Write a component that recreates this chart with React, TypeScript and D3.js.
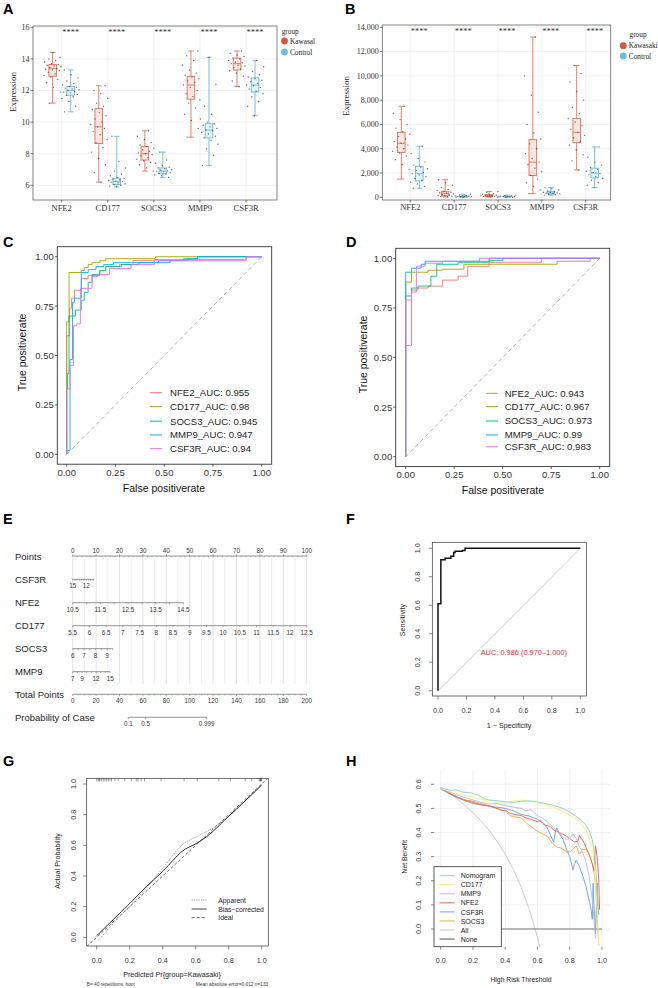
import * as d3 from 'd3';

const SERIF = "'Liberation Serif', 'Times New Roman', serif";
const SANS = "'Liberation Sans', Arial, sans-serif";

const GENES = ['NFE2', 'CD177', 'SOCS3', 'MMP9', 'CSF3R'];
const CASE_COLOR = '#E0705A';
const CTRL_COLOR = '#6DB9D3';

// Training set expression: [min, q1, median, q3, max] per gene
const trainCaseBox = [
  [11.2, 12.9, 13.4, 13.65, 14.4],
  [6.2, 8.65, 9.7, 10.85, 12.3],
  [6.9, 7.6, 8.0, 8.45, 9.45],
  [9.05, 11.45, 12.35, 12.9, 14.5],
  [12.25, 13.3, 13.7, 14.05, 14.5],
];
const trainCtrlBox = [
  [10.65, 11.7, 12.0, 12.25, 13.3],
  [5.9, 6.05, 6.25, 6.45, 9.1],
  [6.5, 6.75, 6.9, 7.1, 8.1],
  [7.25, 9.0, 9.5, 9.9, 14.1],
  [10.4, 11.9, 12.35, 12.8, 13.9],
];
const trainCasePts = [
  [11.2, 11.9, 12.2, 12.5, 12.7, 12.85, 12.95, 13.05, 13.15, 13.25, 13.3, 13.35, 13.4, 13.45, 13.5, 13.55, 13.6, 13.65, 13.7, 13.8, 13.9, 14.0, 14.1, 14.4],
  [6.2, 6.8, 7.3, 7.7, 8.1, 8.4, 8.7, 8.9, 9.2, 9.4, 9.6, 9.7, 9.85, 10.0, 10.2, 10.4, 10.6, 10.8, 11.0, 11.2, 11.5, 11.8, 12.0, 12.3],
  [6.9, 7.1, 7.3, 7.45, 7.55, 7.65, 7.75, 7.85, 7.95, 8.0, 8.05, 8.15, 8.25, 8.35, 8.45, 8.55, 8.7, 8.9, 9.1, 9.45],
  [9.05, 9.6, 10.1, 10.5, 10.9, 11.2, 11.4, 11.6, 11.8, 12.0, 12.2, 12.35, 12.5, 12.6, 12.75, 12.85, 12.95, 13.1, 13.3, 13.6, 13.9, 14.2, 14.5],
  [12.25, 12.6, 12.9, 13.1, 13.25, 13.35, 13.45, 13.55, 13.6, 13.7, 13.75, 13.8, 13.9, 14.0, 14.05, 14.15, 14.25, 14.35, 14.5],
];
const trainCtrlPts = [
  [10.65, 11.0, 11.3, 11.5, 11.6, 11.7, 11.75, 11.85, 11.9, 11.95, 12.0, 12.05, 12.1, 12.15, 12.2, 12.25, 12.35, 12.45, 12.6, 12.8, 13.0, 13.3],
  [5.9, 5.95, 6.0, 6.05, 6.1, 6.15, 6.2, 6.25, 6.25, 6.3, 6.35, 6.4, 6.45, 6.5, 6.6, 6.7, 6.9, 7.1, 7.5, 9.1],
  [6.5, 6.6, 6.65, 6.7, 6.75, 6.8, 6.85, 6.9, 6.9, 6.95, 7.0, 7.05, 7.1, 7.15, 7.25, 7.4, 7.6, 8.1],
  [7.25, 7.9, 8.3, 8.6, 8.85, 9.0, 9.1, 9.25, 9.35, 9.45, 9.5, 9.6, 9.7, 9.8, 9.9, 10.0, 10.2, 10.5, 11.0, 12.4, 14.1],
  [10.4, 11.0, 11.3, 11.6, 11.8, 11.95, 12.1, 12.2, 12.3, 12.35, 12.45, 12.55, 12.65, 12.75, 12.85, 13.0, 13.2, 13.5, 13.9],
];
const TRAIN_TICKS = [6, 8, 10, 12, 14, 16];

// Validation set expression
const testCaseBox = [
  [1500, 3700, 4450, 5350, 7500],
  [30, 130, 330, 500, 1450],
  [20, 60, 140, 220, 480],
  [300, 1800, 2900, 4750, 13200],
  [2250, 4500, 5350, 6500, 10850],
];
const testCtrlBox = [
  [750, 1350, 1950, 2550, 4200],
  [10, 40, 70, 110, 250],
  [10, 40, 70, 100, 180],
  [180, 270, 360, 470, 800],
  [800, 1600, 2000, 2400, 4150],
];
const testCasePts = [
  [1500, 2300, 2700, 3100, 3400, 3650, 3800, 4000, 4150, 4300, 4450, 4600, 4800, 5000, 5200, 5400, 5700, 6000, 6400, 6900, 7500],
  [30, 60, 90, 120, 150, 190, 230, 280, 330, 380, 430, 480, 550, 650, 800, 1000, 1200, 1450],
  [20, 40, 60, 80, 100, 120, 140, 160, 180, 210, 250, 300, 380, 480],
  [300, 600, 900, 1200, 1500, 1800, 2100, 2400, 2700, 2900, 3200, 3600, 4000, 4400, 4800, 5300, 6000, 7000, 8400, 10000, 13200],
  [2250, 3000, 3500, 3900, 4300, 4600, 4900, 5100, 5350, 5600, 5900, 6200, 6500, 6900, 7400, 8000, 8700, 9500, 10200, 10850],
];
const testCtrlPts = [
  [750, 900, 1100, 1250, 1400, 1550, 1700, 1850, 1950, 2050, 2200, 2350, 2500, 2650, 2900, 3200, 3600, 4200],
  [10, 20, 35, 45, 55, 65, 75, 85, 100, 120, 150, 200, 250],
  [10, 25, 40, 50, 60, 70, 80, 95, 110, 140, 180],
  [180, 220, 250, 280, 310, 340, 360, 390, 420, 460, 520, 600, 700, 800],
  [800, 1000, 1200, 1400, 1550, 1700, 1850, 1950, 2050, 2150, 2300, 2450, 2650, 2900, 3300, 4150],
];
const TEST_TICKS = [0, 2000, 4000, 6000, 8000, 10000, 12000, 14000];

// ROC curves, [fpr, tpr] corners
const ROC_COLORS = ['#F8766D', '#A3A500', '#00BF7D', '#00B0F6', '#E76BF3'];
const trainAuc = ['0.955', '0.98', '0.945', '0.947', '0.94'];
const trainRoc = [
  [[0, 0], [0, 0.6], [0.015, 0.74], [0.025, 0.79], [0.04, 0.83], [0.075, 0.89], [0.11, 0.905], [0.17, 0.93], [0.2, 0.95], [0.27, 0.96], [0.34, 0.98], [0.45, 0.985], [0.92, 1], [1, 1]],
  [[0, 0], [0, 0.67], [0.012, 0.92], [0.075, 0.93], [0.09, 0.945], [0.11, 0.96], [0.13, 0.97], [0.17, 0.98], [0.2, 0.99], [0.455, 1], [1, 1]],
  [[0, 0], [0, 0.33], [0.005, 0.41], [0.012, 0.7], [0.045, 0.73], [0.075, 0.78], [0.09, 0.82], [0.11, 0.87], [0.13, 0.91], [0.17, 0.93], [0.2, 0.95], [0.28, 0.96], [0.37, 0.97], [0.47, 0.98], [0.6, 0.99], [0.67, 1], [1, 1]],
  [[0, 0], [0, 0.02], [0.017, 0.48], [0.03, 0.77], [0.04, 0.79], [0.075, 0.92], [0.11, 0.935], [0.15, 0.95], [0.19, 0.96], [0.24, 0.97], [0.53, 0.98], [0.62, 0.99], [0.67, 1], [1, 1]],
  [[0, 0], [0, 0.33], [0.017, 0.45], [0.035, 0.65], [0.05, 0.66], [0.07, 0.84], [0.13, 0.9], [0.16, 0.91], [0.22, 0.94], [0.33, 0.96], [0.45, 0.98], [0.92, 1], [1, 1]],
];
const testAuc = ['0.943', '0.967', '0.973', '0.99', '0.983'];
const testRoc = [
  [[0, 0], [0, 0.56], [0.03, 0.84], [0.064, 0.85], [0.115, 0.86], [0.19, 0.89], [0.27, 0.91], [0.32, 0.96], [0.43, 0.98], [0.7, 1], [1, 1]],
  [[0, 0], [0, 0.88], [0.03, 0.93], [0.115, 0.94], [0.19, 0.945], [0.3, 0.97], [0.78, 0.985], [0.95, 1], [1, 1]],
  [[0, 0], [0, 0.81], [0.03, 0.85], [0.064, 0.86], [0.13, 0.91], [0.16, 0.97], [0.27, 0.98], [0.43, 0.99], [0.5, 1], [1, 1]],
  [[0, 0], [0, 0.93], [0.03, 0.95], [0.08, 0.97], [0.1, 0.985], [0.43, 1], [1, 1]],
  [[0, 0], [0, 0.79], [0.03, 0.83], [0.055, 0.96], [0.1, 0.975], [0.19, 0.985], [0.38, 1], [1, 1]],
];

// Nomogram axes: value range, points reached at the far end, labels, tick step
const NOMO_VARS = [
  { name: 'CSF3R', from: 15, to: 10.2, endPts: 9.2, labels: [15, 12], step: 0.5 },
  { name: 'NFE2', from: 10.5, to: 14.5, endPts: 47.3, labels: [10.5, 11.5, 12.5, 13.5, 14.5], step: 0.5 },
  { name: 'CD177', from: 5.5, to: 12.5, endPts: 100, labels: d3.range(5.5, 12.51, 0.5), step: 0.5 },
  { name: 'SOCS3', from: 6, to: 9.5, endPts: 17.1, labels: [6, 7, 8, 9], step: 0.5 },
  { name: 'MMP9', from: 7, to: 15, endPts: 16, labels: [7, 9, 12, 15], step: 1 },
];
const PROB_LABELS = ['0.1', '0.5', '0.999'];
const PROB_TOTAL_POINTS = [47.5, 62.4, 114.5];

// Combined-model ROC
const nomoRoc = [[0, 0], [0, 0.61], [0.02, 0.92], [0.05, 0.93], [0.09, 0.945], [0.11, 0.97], [0.12, 0.98], [0.17, 0.985], [0.19, 1], [1, 1]];

// Calibration
const calApparent = [[0.01, -0.02], [0.1, 0.09], [0.2, 0.2], [0.3, 0.32], [0.4, 0.45], [0.515, 0.6], [0.626, 0.667], [0.7, 0.71], [0.788, 0.776], [0.9, 0.89], [1.0, 0.995]];
const calCorrected = [[0.0, 0.01], [0.1, 0.115], [0.2, 0.22], [0.3, 0.33], [0.4, 0.43], [0.465, 0.505], [0.515, 0.559], [0.606, 0.613], [0.667, 0.657], [0.8, 0.79], [0.9, 0.89], [1.0, 0.993]];
const calRug = [0.0, 0.01, 0.015, 0.02, 0.03, 0.04, 0.05, 0.06, 0.07, 0.08, 0.09, 0.11, 0.13, 0.17, 0.21, 0.24, 0.25, 0.27, 0.29, 0.39, 0.53, 0.61, 0.74, 0.81, 0.9, 0.94, 0.985, 0.99, 0.993, 0.996, 1.0];

// Decision curves
const DCA_NAMES = ['Nomogram', 'CD177', 'MMP9', 'NFE2', 'CSF3R', 'SOCS3', 'All', 'None'];
const DCA_COLORS = ['#8DD3C7', '#F5F27A', '#BEBADA', '#EE6658', '#6FA3D6', '#F3A64C', '#C8C8C8', '#555555'];
const dcaNomogram = [[0, 0.587], [0.03, 0.58], [0.06, 0.575], [0.1, 0.577], [0.13, 0.568], [0.17, 0.566], [0.2, 0.562], [0.23, 0.556], [0.27, 0.54], [0.3, 0.535], [0.33, 0.533], [0.36, 0.531], [0.4, 0.528], [0.45, 0.525], [0.5, 0.53], [0.55, 0.531], [0.6, 0.527], [0.65, 0.52], [0.7, 0.512], [0.75, 0.502], [0.8, 0.485], [0.85, 0.462], [0.88, 0.445], [0.9, 0.43], [0.92, 0.41], [0.94, 0.37], [0.95, 0.33], [0.96, 0.27], [0.97, 0.16], [0.975, 0.1], [0.98, 0.07]];
const dcaCD177 = [[0, 0.585], [0.04, 0.575], [0.08, 0.565], [0.12, 0.558], [0.16, 0.552], [0.2, 0.545], [0.25, 0.54], [0.3, 0.53], [0.35, 0.525], [0.4, 0.52], [0.45, 0.53], [0.5, 0.535], [0.55, 0.53], [0.6, 0.525], [0.65, 0.515], [0.7, 0.505], [0.75, 0.49], [0.8, 0.472], [0.85, 0.45], [0.88, 0.43], [0.9, 0.41], [0.92, 0.38], [0.94, 0.33], [0.95, 0.28], [0.96, 0.2], [0.97, 0.08], [0.98, -0.07]];
const dcaMMP9 = [[0, 0.582], [0.05, 0.57], [0.1, 0.556], [0.15, 0.545], [0.2, 0.535], [0.25, 0.525], [0.3, 0.518], [0.35, 0.52], [0.4, 0.512], [0.45, 0.505], [0.5, 0.5], [0.53, 0.49], [0.56, 0.495], [0.6, 0.47], [0.63, 0.46], [0.66, 0.445], [0.7, 0.42], [0.73, 0.405], [0.76, 0.38], [0.78, 0.37], [0.8, 0.375], [0.82, 0.395], [0.84, 0.375], [0.86, 0.34], [0.88, 0.32], [0.9, 0.28], [0.92, 0.22], [0.94, 0.12], [0.95, 0.04], [0.96, -0.04]];
const dcaNFE2 = [[0, 0.585], [0.05, 0.565], [0.1, 0.548], [0.15, 0.535], [0.2, 0.525], [0.25, 0.515], [0.3, 0.51], [0.35, 0.5], [0.38, 0.49], [0.4, 0.493], [0.43, 0.48], [0.46, 0.475], [0.5, 0.47], [0.53, 0.46], [0.56, 0.455], [0.6, 0.445], [0.62, 0.45], [0.65, 0.43], [0.68, 0.425], [0.7, 0.41], [0.72, 0.405], [0.75, 0.395], [0.78, 0.385], [0.8, 0.375], [0.83, 0.36], [0.85, 0.365], [0.86, 0.39], [0.87, 0.375], [0.88, 0.37], [0.9, 0.34], [0.92, 0.31], [0.94, 0.27], [0.95, 0.24], [0.96, 0.345], [0.97, 0.3], [0.98, 0.2], [0.985, 0.08]];
const dcaCSF3R = [[0, 0.58], [0.05, 0.562], [0.1, 0.545], [0.15, 0.532], [0.2, 0.52], [0.25, 0.515], [0.3, 0.51], [0.35, 0.505], [0.4, 0.5], [0.45, 0.49], [0.5, 0.475], [0.55, 0.468], [0.6, 0.455], [0.63, 0.44], [0.66, 0.42], [0.68, 0.39], [0.7, 0.36], [0.71, 0.4], [0.72, 0.42], [0.74, 0.39], [0.76, 0.37], [0.78, 0.33], [0.8, 0.3], [0.82, 0.245], [0.83, 0.27], [0.84, 0.285], [0.86, 0.26], [0.88, 0.22], [0.9, 0.18], [0.92, 0.12], [0.93, 0.09], [0.94, 0.04], [0.945, 0.19], [0.95, 0.1], [0.955, 0.05], [0.96, -0.02], [0.97, 0.19], [0.975, 0.1], [0.98, 0.06]];
const dcaSOCS3 = [[0, 0.585], [0.05, 0.565], [0.1, 0.548], [0.15, 0.535], [0.2, 0.53], [0.25, 0.52], [0.3, 0.51], [0.35, 0.5], [0.4, 0.49], [0.43, 0.47], [0.46, 0.465], [0.5, 0.46], [0.53, 0.44], [0.56, 0.425], [0.6, 0.405], [0.63, 0.395], [0.66, 0.385], [0.7, 0.35], [0.72, 0.34], [0.75, 0.335], [0.78, 0.32], [0.8, 0.32], [0.82, 0.33], [0.84, 0.345], [0.86, 0.31], [0.88, 0.33], [0.9, 0.33], [0.92, 0.31], [0.94, 0.27], [0.95, 0.24], [0.96, 0.18], [0.97, 0.05], [0.98, -0.07]];
const dcaAll = [[0, 0.586], [0.05, 0.564], [0.1, 0.54], [0.15, 0.513], [0.2, 0.482], [0.25, 0.448], [0.3, 0.409], [0.35, 0.363], [0.4, 0.31], [0.45, 0.247], [0.5, 0.172], [0.55, 0.08], [0.6, -0.035], [0.62, -0.09]];
const dcaNone = [[0, 0], [1, 0]];
const DCA_CURVES = [dcaNomogram, dcaCD177, dcaMMP9, dcaNFE2, dcaCSF3R, dcaSOCS3, dcaAll, dcaNone];

const UNIT_TICKS = [0, 0.2, 0.4, 0.6, 0.8, 1.0];

function PanelLabel({ x, y, text }: { x: number; y: number; text: string }) {
  return (
    <text x={x} y={y} fontFamily={SANS} fontWeight="bold" fontSize={14.5} fill="#000">{text}</text>
  );
}

// quasi-even horizontal spread for the jittered dots
const jitter = (i: number) => (((i * 0.618034 + 0.31) % 1) - 0.5) * 2;

function BoxPanel(props: {
  frame: [number, number, number, number];
  xRange: [number, number];
  yDomain: [number, number];
  yRange: [number, number];
  ticks: number[];
  fmt: (v: number) => string;
  caseBox: number[][]; ctrlBox: number[][];
  casePts: number[][]; ctrlPts: number[][];
  caseLabel: string;
  legend: { groupX: number; groupY: number; dotX: number; textX: number; rows: number[] };
  titleY: number; titleX: number; starY: number; xLabelY: number;
}) {
  const [fx0, fy0, fx1, fy1] = props.frame;
  const x = d3.scalePoint<string>().domain(GENES).range(props.xRange).padding(0.6);
  const y = d3.scaleLinear().domain(props.yDomain).range(props.yRange);
  const bw = 7.6;
  const dodge = 9;
  const groups = [
    { box: props.caseBox, pts: props.casePts, color: CASE_COLOR, off: -dodge },
    { box: props.ctrlBox, pts: props.ctrlPts, color: CTRL_COLOR, off: dodge },
  ];
  return (
    <g fontFamily={SERIF}>
      <rect x={fx0} y={fy0} width={fx1 - fx0} height={fy1 - fy0} fill="#fff" />
      {props.ticks.map((t) => (
        <line key={'h' + t} x1={fx0} x2={fx1} y1={y(t)} y2={y(t)} stroke="#EBEBEB" strokeWidth={0.7} />
      ))}
      {GENES.map((g) => (
        <line key={'v' + g} x1={x(g)} x2={x(g)} y1={fy0} y2={fy1} stroke="#EBEBEB" strokeWidth={0.7} />
      ))}
      {GENES.map((g, gi) =>
        groups.map((grp, k) => {
          const cx = (x(g) as number) + grp.off;
          const [mn, q1, md, q3, mx] = grp.box[gi];
          return (
            <g key={g + k}>
              <line x1={cx} x2={cx} y1={y(mx)} y2={y(q3)} stroke={grp.color} strokeWidth={0.9} />
              <line x1={cx} x2={cx} y1={y(q1)} y2={y(mn)} stroke={grp.color} strokeWidth={0.9} />
              <line x1={cx - 2.8} x2={cx + 2.8} y1={y(mx)} y2={y(mx)} stroke={grp.color} strokeWidth={0.9} />
              <line x1={cx - 2.8} x2={cx + 2.8} y1={y(mn)} y2={y(mn)} stroke={grp.color} strokeWidth={0.9} />
              <rect x={cx - bw / 2} y={y(q3)} width={bw} height={Math.max(0.6, y(q1) - y(q3))}
                fill={grp.color} fillOpacity={0.18} stroke={grp.color} strokeWidth={0.9} />
              <line x1={cx - bw / 2} x2={cx + bw / 2} y1={y(md)} y2={y(md)} stroke={grp.color} strokeWidth={0.9} />
              {grp.pts[gi].map((v, i) => (
                <circle key={i} cx={cx + jitter(i + gi * 7 + k * 3) * 9} cy={y(v)} r={0.7} fill="#333" fillOpacity={0.75} />
              ))}
            </g>
          );
        })
      )}
      {GENES.map((g) => (
        <text key={'s' + g} x={(x(g) as number) + 0.5} y={props.starY} fontSize={8.5} fill="#333">****</text>
      ))}
      <rect x={fx0} y={fy0} width={fx1 - fx0} height={fy1 - fy0} fill="none" stroke="#666" strokeWidth={0.8} />
      {props.ticks.map((t) => (
        <g key={'t' + t}>
          <line x1={fx0 - 2.5} x2={fx0} y1={y(t)} y2={y(t)} stroke="#333" strokeWidth={0.7} />
          <text x={fx0 - 3.5} y={y(t) + 2.8} fontSize={8} textAnchor="end" fill="#333">{props.fmt(t)}</text>
        </g>
      ))}
      {GENES.map((g) => (
        <g key={'x' + g}>
          <line x1={x(g)} x2={x(g)} y1={fy1} y2={fy1 + 2.5} stroke="#333" strokeWidth={0.7} />
          <text x={x(g)} y={props.xLabelY} fontSize={8.5} textAnchor="middle" fill="#333">{g}</text>
        </g>
      ))}
      <text transform={`translate(${props.titleX},${props.titleY}) rotate(-90)`} fontSize={9} textAnchor="middle" fill="#222">Expression</text>
      <text x={props.legend.groupX} y={props.legend.groupY} fontSize={7.3} fill="#222">group</text>
      {[{ c: '#D9553F', t: props.caseLabel }, { c: '#6EBAD8', t: 'Control' }].map((e, i) => (
        <g key={e.t}>
          <circle cx={props.legend.dotX} cy={props.legend.rows[i]} r={3.4} fill={e.c} />
          <text x={props.legend.textX} y={props.legend.rows[i] + 2.6} fontSize={7.3} fill="#222">{e.t}</text>
        </g>
      ))}
    </g>
  );
}

function RocPanel(props: {
  frame: [number, number, number, number];
  xRange: [number, number];
  yRange: [number, number];
  curves: number[][][];
  aucs: string[];
  legend: { x0: number; x1: number; textX: number; rows: number[] };
  yTitleX: number;
  xTitleX: number;
}) {
  const [fx0, fy0, fx1, fy1] = props.frame;
  const x = d3.scaleLinear().domain([0, 1]).range(props.xRange);
  const y = d3.scaleLinear().domain([0, 1]).range(props.yRange);
  const line = d3.line<number[]>().x((d) => x(d[0])).y((d) => y(d[1])).curve(d3.curveStepAfter);
  const ticks = [0, 0.25, 0.5, 0.75, 1];
  return (
    <g fontFamily={SANS}>
      <line x1={x(0)} y1={y(0)} x2={x(1)} y2={y(1)} stroke="#A8A8A8" strokeWidth={0.9} strokeDasharray="4,3" />
      {props.curves.map((c, i) => (
        <path key={i} d={line(c) as string} fill="none" stroke={ROC_COLORS[i]} strokeWidth={0.9} />
      ))}
      <rect x={fx0} y={fy0} width={fx1 - fx0} height={fy1 - fy0} fill="none" stroke="#333" strokeWidth={0.9} />
      {ticks.map((t) => (
        <g key={t}>
          <line x1={fx0 - 2.5} x2={fx0} y1={y(t)} y2={y(t)} stroke="#333" strokeWidth={0.8} />
          <text x={fx0 - 3.5} y={y(t) + 3.4} fontSize={9.5} textAnchor="end" fill="#333">{t.toFixed(2)}</text>
          <line x1={x(t)} x2={x(t)} y1={fy1} y2={fy1 + 2.5} stroke="#333" strokeWidth={0.8} />
          <text x={x(t)} y={fy1 + 11.5} fontSize={9.5} textAnchor="middle" fill="#333">{t.toFixed(2)}</text>
        </g>
      ))}
      <text transform={`translate(${props.yTitleX},${(fy0 + fy1) / 2 - 3}) rotate(-90)`} fontSize={10.5} textAnchor="middle" fill="#111">True positiverate</text>
      <text x={props.xTitleX} y={fy1 + 27.5} fontSize={10.5} textAnchor="middle" fill="#111">False positiverate</text>
      {GENES.map((g, i) => (
        <g key={g}>
          <line x1={props.legend.x0} x2={props.legend.x1} y1={props.legend.rows[i]} y2={props.legend.rows[i]} stroke={ROC_COLORS[i]} strokeWidth={1} />
          <text x={props.legend.textX} y={props.legend.rows[i] + 3.4} fontSize={9.6} fill="#222">{`${g}_AUC: ${props.aucs[i]}`}</text>
        </g>
      ))}
    </g>
  );
}

function NomogramPanel() {
  const pts = d3.scaleLinear().domain([0, 100]).range([72.7, 306.7]);
  const total = d3.scaleLinear().domain([0, 200]).range([72.7, 306.7]);
  const rows = [556, 579.3, 602.7, 625.7, 648.7, 671.7, 694.3, 717.3];
  const axisColor = '#666';
  return (
    <g fontFamily={SANS}>
      {d3.range(0, 101, 5).map((p) => (
        <line key={'g' + p} x1={pts(p)} x2={pts(p)} y1={558} y2={684} stroke={p % 10 === 0 ? '#D6D6D6' : '#E6E6E6'} strokeWidth={0.7} />
      ))}
      <text x={15} y={rows[0] + 3.5} fontSize={9.5} fill="#222">Points</text>
      <line x1={pts(0)} x2={pts(100)} y1={rows[0]} y2={rows[0]} stroke={axisColor} strokeWidth={0.7} />
      {d3.range(0, 101, 2).map((p) => (
        <line key={'m' + p} x1={pts(p)} x2={pts(p)} y1={rows[0]} y2={rows[0] + 1.2} stroke={axisColor} strokeWidth={0.5} />
      ))}
      {d3.range(0, 101, 10).map((p) => (
        <g key={'p' + p}>
          <line x1={pts(p)} x2={pts(p)} y1={rows[0]} y2={rows[0] - 1.8} stroke={axisColor} strokeWidth={0.6} />
          <text x={pts(p)} y={rows[0] - 3.5} fontSize={6.3} textAnchor="middle" fill="#333">{p}</text>
        </g>
      ))}
      {NOMO_VARS.map((v, i) => {
        const yy = rows[i + 1];
        const toPts = d3.scaleLinear().domain([v.from, v.to]).range([0, v.endPts]);
        const lo = Math.min(v.from, v.to);
        const hi = Math.max(v.from, v.to);
        const ticks = d3.range(Math.ceil(lo / v.step) * v.step, hi + 1e-9, v.step);
        return (
          <g key={v.name}>
            <text x={15} y={yy + 3.5} fontSize={9.5} fill="#222">{v.name}</text>
            <line x1={pts(0)} x2={pts(v.endPts)} y1={yy} y2={yy} stroke={axisColor} strokeWidth={0.7} />
            {ticks.map((t) => (
              <line key={'k' + t} x1={pts(toPts(t))} x2={pts(toPts(t))} y1={yy} y2={yy + 1.5} stroke={axisColor} strokeWidth={0.55} />
            ))}
            {v.labels.map((l) => (
              <text key={'l' + l} x={pts(toPts(l))} y={yy + 8.8} fontSize={6.3} textAnchor="middle" fill="#333">{String(l)}</text>
            ))}
          </g>
        );
      })}
      <text x={15} y={rows[6] + 3.5} fontSize={9.5} fill="#222">Total Points</text>
      <line x1={total(0)} x2={total(200)} y1={rows[6]} y2={rows[6]} stroke={axisColor} strokeWidth={0.7} />
      {d3.range(0, 201, 5).map((t) => (
        <line key={'tt' + t} x1={total(t)} x2={total(t)} y1={rows[6]} y2={rows[6] + (t % 20 === 0 ? 1.8 : 1.1)} stroke={axisColor} strokeWidth={0.55} />
      ))}
      {d3.range(0, 201, 20).map((t) => (
        <text key={'tl' + t} x={total(t)} y={rows[6] + 8.8} fontSize={6.3} textAnchor="middle" fill="#333">{t}</text>
      ))}
      <text x={15} y={rows[7] + 3.5} fontSize={9.5} fill="#222">Probability of Case</text>
      <line x1={total(PROB_TOTAL_POINTS[0])} x2={total(PROB_TOTAL_POINTS[2])} y1={rows[7]} y2={rows[7]} stroke={axisColor} strokeWidth={0.7} />
      {PROB_LABELS.map((l, i) => (
        <g key={l}>
          <line x1={total(PROB_TOTAL_POINTS[i])} x2={total(PROB_TOTAL_POINTS[i])} y1={rows[7]} y2={rows[7] + 1.8} stroke={axisColor} strokeWidth={0.6} />
          <text x={total(PROB_TOTAL_POINTS[i])} y={rows[7] + 8.8} fontSize={6.3} textAnchor="middle" fill="#333">{l}</text>
        </g>
      ))}
    </g>
  );
}

function BaseAxes(props: {
  x: d3.ScaleLinear<number, number>; y: d3.ScaleLinear<number, number>;
  frame: [number, number, number, number];
  xLabelY: number; yLabelX: number; fs: number;
}) {
  const [fx0, , , fy1] = props.frame;
  return (
    <g>
      {UNIT_TICKS.map((t) => (
        <g key={t}>
          <line x1={props.x(t)} x2={props.x(t)} y1={fy1} y2={fy1 + 3.5} stroke="#333" strokeWidth={0.6} />
          <text x={props.x(t)} y={props.xLabelY} fontSize={props.fs} textAnchor="middle" fill="#333">{t.toFixed(1)}</text>
          <line x1={fx0 - 3.5} x2={fx0} y1={props.y(t)} y2={props.y(t)} stroke="#333" strokeWidth={0.6} />
          <text transform={`translate(${props.yLabelX},${props.y(t)}) rotate(-90)`} fontSize={props.fs} textAnchor="middle" fill="#333">{t.toFixed(1)}</text>
        </g>
      ))}
    </g>
  );
}

function NomoRocPanel() {
  const frame: [number, number, number, number] = [432.3, 542.3, 586.3, 696];
  const x = d3.scaleLinear().domain([0, 1]).range([438, 580.3]);
  const y = d3.scaleLinear().domain([0, 1]).range([690.7, 548.3]);
  const line = d3.line<number[]>().x((d) => x(d[0])).y((d) => y(d[1])).curve(d3.curveStepAfter);
  return (
    <g fontFamily={SANS}>
      <line x1={x(0)} y1={y(0)} x2={x(1)} y2={y(1)} stroke="#C4C4C4" strokeWidth={0.8} />
      <path d={line(nomoRoc) as string} fill="none" stroke="#111" strokeWidth={1.5} />
      <rect x={frame[0]} y={frame[1]} width={frame[2] - frame[0]} height={frame[3] - frame[1]} fill="none" stroke="#333" strokeWidth={0.7} />
      <BaseAxes x={x} y={y} frame={frame} xLabelY={713} yLabelX={419.5} fs={7.2} />
      <text transform={`translate(404.7,620) rotate(-90)`} fontSize={7.2} textAnchor="middle" fill="#222">Sensitivity</text>
      <text x={509} y={728} fontSize={7.2} textAnchor="middle" fill="#222">1 − Specificity</text>
      <text x={480.7} y={654.5} fontSize={7.4} fill="#D9302A">AUC: 0.986 (0.970–1.000)</text>
    </g>
  );
}

function CalibrationPanel() {
  const frame: [number, number, number, number] = [86.7, 778.3, 268.3, 946];
  const x = d3.scaleLinear().domain([0, 1]).range([96.7, 261.7]);
  const y = d3.scaleLinear().domain([0, 1]).range([937.3, 784]);
  const line = d3.line<number[]>().x((d) => x(d[0])).y((d) => y(d[1])).curve(d3.curveMonotoneX);
  const lo = x.invert(frame[0]);
  const hi = y.invert(frame[1]);
  const legRows = [900, 909, 917.7];
  const legStyles = [
    { t: 'Apparent', dash: '1,1.3', c: '#666' },
    { t: 'Bias−corrected', dash: undefined, c: '#111' },
    { t: 'Ideal', dash: '3,2', c: '#333' },
  ];
  return (
    <g fontFamily={SANS}>
      <defs>
        <clipPath id="cal-clip"><rect x={frame[0]} y={frame[1]} width={frame[2] - frame[0]} height={frame[3] - frame[1]} /></clipPath>
      </defs>
      <g clipPath="url(#cal-clip)">
        <line x1={x(lo)} y1={y(lo)} x2={x(hi)} y2={y(hi)} stroke="#333" strokeWidth={0.7} strokeDasharray="3,2" />
        <path d={line(calApparent) as string} fill="none" stroke="#777" strokeWidth={0.9} strokeDasharray="1,1.3" />
        <path d={line(calCorrected) as string} fill="none" stroke="#111" strokeWidth={0.9} />
      </g>
      {calRug.map((v, i) => (
        <line key={i} x1={x(v)} x2={x(v)} y1={frame[1]} y2={frame[1] + 3} stroke="#333" strokeWidth={0.5} />
      ))}
      <rect x={frame[0]} y={frame[1]} width={frame[2] - frame[0]} height={frame[3] - frame[1]} fill="none" stroke="#333" strokeWidth={0.7} />
      <BaseAxes x={x} y={y} frame={frame} xLabelY={962.5} yLabelX={76} fs={7.2} />
      <text transform={`translate(60,861) rotate(-90)`} fontSize={7.2} textAnchor="middle" fill="#222">Actual Probability</text>
      <text x={172} y={977} fontSize={7.2} textAnchor="middle" fill="#222">{'Predicted Pr{group=Kawasaki}'}</text>
      <text x={86.7} y={985.5} fontSize={4.8} fill="#333">B= 40 repetitions, boot</text>
      <text x={268.3} y={985.5} fontSize={4.8} textAnchor="end" fill="#333">Mean absolute error=0.012 n=133</text>
      {legStyles.map((s, i) => (
        <g key={s.t}>
          <line x1={191.7} x2={206.7} y1={legRows[i]} y2={legRows[i]} stroke={s.c} strokeWidth={0.8} strokeDasharray={s.dash} />
          <text x={218.3} y={legRows[i] + 2.5} fontSize={6.8} fill="#222">{s.t}</text>
        </g>
      ))}
    </g>
  );
}

function DecisionPanel() {
  const x = d3.scaleLinear().domain([0, 1]).range([440.7, 602]);
  const y = d3.scaleLinear().domain([0, 0.6]).range([929, 784.3]);
  const area = { x0: 434, x1: 609.7, y0: 770, y1: 946.7 };
  const line = d3.line<number[]>().x((d) => x(d[0])).y((d) => y(d[1]));
  const yTicks = [0, 0.1, 0.2, 0.3, 0.4, 0.5, 0.6];
  const legRows = d3.range(8).map((i) => 875.7 + i * 9.05);
  return (
    <g fontFamily={SANS}>
      <defs>
        <clipPath id="dca-clip"><rect x={area.x0} y={area.y0} width={area.x1 - area.x0} height={area.y1 - area.y0} /></clipPath>
      </defs>
      {UNIT_TICKS.map((t) => (
        <line key={'gx' + t} x1={x(t)} x2={x(t)} y1={area.y0} y2={area.y1} stroke="#EBEBEB" strokeWidth={0.7} />
      ))}
      {yTicks.map((t) => (
        <line key={'gy' + t} x1={area.x0} x2={area.x1} y1={y(t)} y2={y(t)} stroke="#EBEBEB" strokeWidth={0.7} />
      ))}
      <g clipPath="url(#dca-clip)">
        {[6, 7, 5, 4, 3, 2, 1, 0].map((i) => (
          <path key={i} d={line(DCA_CURVES[i]) as string} fill="none" stroke={DCA_COLORS[i]} strokeWidth={i === 7 ? 0.8 : 0.95} strokeLinejoin="round" />
        ))}
      </g>
      {yTicks.map((t) => (
        <g key={'ty' + t}>
          <line x1={area.x0 - 3} x2={area.x0} y1={y(t)} y2={y(t)} stroke="#333" strokeWidth={0.6} />
          <text transform={`translate(421,${y(t)}) rotate(-90)`} fontSize={7.2} textAnchor="middle" fill="#333">{t.toFixed(1)}</text>
        </g>
      ))}
      {UNIT_TICKS.map((t) => (
        <g key={'tx' + t}>
          <line x1={x(t)} x2={x(t)} y1={area.y1} y2={area.y1 + 3} stroke="#333" strokeWidth={0.6} />
          <text x={x(t)} y={963} fontSize={7.2} textAnchor="middle" fill="#333">{t.toFixed(1)}</text>
        </g>
      ))}
      <text transform={`translate(407.3,856.7) rotate(-90)`} fontSize={6.8} textAnchor="middle" fill="#222">Net Benefit</text>
      <text x={521} y={981.5} fontSize={6.8} textAnchor="middle" fill="#222">High Risk Threshold</text>
      <rect x={area.x0} y={866.7} width={501.3 - area.x0} height={area.y1 - 866.7} fill="#fff" stroke="#333" strokeWidth={0.8} />
      {DCA_NAMES.map((n, i) => (
        <g key={n}>
          <line x1={439.7} x2={454.7} y1={legRows[i]} y2={legRows[i]} stroke={DCA_COLORS[i]} strokeWidth={1} />
          <text x={460.7} y={legRows[i] + 2.6} fontSize={7} fill="#222">{n}</text>
        </g>
      ))}
    </g>
  );
}

export default function App() {
  return (
    <svg width={658} height={988} viewBox="0 0 658 988" style={{ position: 'absolute', left: 0, top: 0, background: '#fff' }}>
      <rect width={658} height={988} fill="#fff" />
      <PanelLabel x={3} y={13.5} text="A" />
      <BoxPanel
        frame={[33, 26, 277, 200]}
        xRange={[34, 273.7]}
        yDomain={[6, 16]}
        yRange={[185.3, 27.3]}
        ticks={TRAIN_TICKS}
        fmt={(v) => String(v)}
        caseBox={trainCaseBox} ctrlBox={trainCtrlBox}
        casePts={trainCasePts} ctrlPts={trainCtrlPts}
        caseLabel="Kawasal"
        legend={{ groupX: 281.7, groupY: 33.5, dotX: 284.5, textX: 290, rows: [41, 52] }}
        titleX={16} titleY={92} starY={34.5} xLabelY={211}
      />
      <PanelLabel x={345} y={13.5} text="B" />
      <BoxPanel
        frame={[382.3, 25, 610.7, 200]}
        xRange={[384, 612]}
        yDomain={[0, 14000]}
        yRange={[197.3, 27.3]}
        ticks={TEST_TICKS}
        fmt={d3.format(',')}
        caseBox={testCaseBox} ctrlBox={testCtrlBox}
        casePts={testCasePts} ctrlPts={testCtrlPts}
        caseLabel="Kawasaki"
        legend={{ groupX: 629.5, groupY: 37, dotX: 623.3, textX: 628.8, rows: [45.7, 56] }}
        titleX={349} titleY={96} starY={33.5} xLabelY={209.5}
      />
      <PanelLabel x={3} y={246.5} text="C" />
      <RocPanel
        frame={[57.3, 246.7, 271.7, 464.2]}
        xRange={[66.7, 261.7]}
        yRange={[454.3, 256.7]}
        curves={trainRoc}
        aucs={trainAuc}
        legend={{ x0: 150, x1: 162, textX: 170, rows: [392.7, 406.7, 421.2, 435, 448.7] }}
        yTitleX={25.5}
        xTitleX={164}
      />
      <PanelLabel x={346} y={246.5} text="D" />
      <RocPanel
        frame={[395.7, 248.3, 609.7, 466.6]}
        xRange={[405.7, 599.7]}
        yRange={[456.7, 258.3]}
        curves={testRoc}
        aucs={testAuc}
        legend={{ x0: 486, x1: 498, textX: 504.7, rows: [393.3, 406.7, 421, 435, 446.8] }}
        yTitleX={366.5}
        xTitleX={503}
      />
      <PanelLabel x={3} y={523.5} text="E" />
      <NomogramPanel />
      <PanelLabel x={346} y={523.5} text="F" />
      <NomoRocPanel />
      <PanelLabel x={3} y={765.5} text="G" />
      <CalibrationPanel />
      <PanelLabel x={346} y={766} text="H" />
      <DecisionPanel />
    </svg>
  );
}
